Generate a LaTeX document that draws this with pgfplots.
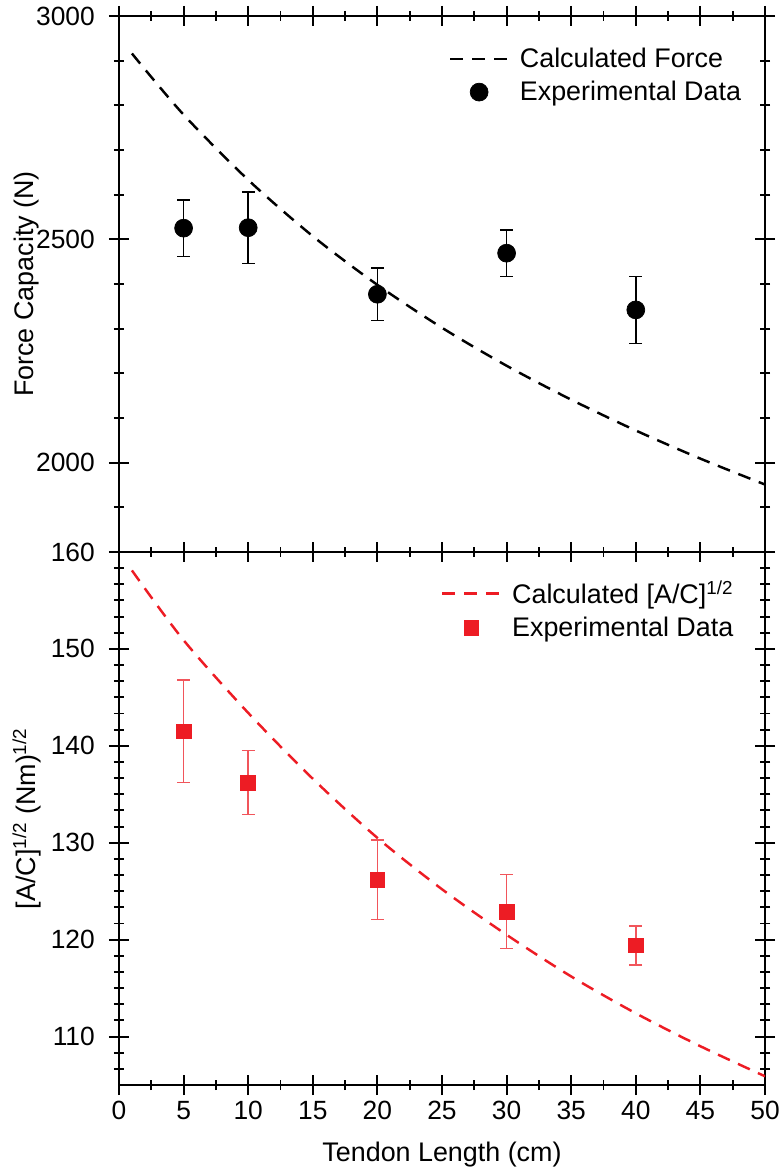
\documentclass[border=0pt]{standalone}
\usepackage{pgfplots}
\pgfplotsset{compat=1.18}
\usepackage{fontspec}
\setmainfont{Liberation Sans}
\definecolor{cred}{RGB}{237,28,36}

\begin{document}
\begin{tikzpicture}
\pgfplotsset{panel/.style={
    scale only axis, width=12.92cm,
    xmin=0, xmax=50,
    xtick={0,5,...,50}, minor x tick num=1,
    tick align=center, major tick length=0.4cm, minor tick length=0.2cm,
    axis line style={line width=1.1pt},
    every tick/.style={black, line width=1.1pt},
    tick label style={font=\fontsize{15}{17}\selectfont},
    yticklabel style={xshift=-0.16cm},
    label style={font=\fontsize{15.3}{18}\selectfont},
    /pgf/number format/assume math mode=true,
    /pgf/number format/1000 sep={},
    ylabel style={at={(axis description cs:-0.143,0.5)}, anchor=center},
    legend style={draw=none, fill=none, anchor=north west,
        font=\fontsize{15.3}{18}\selectfont, cells={anchor=west}, row sep=2.2pt},
    legend image code/.code={\draw[mark repeat=2,mark phase=2,##1]
        plot coordinates {(0cm,0cm) (0.58cm,0cm) (1.16cm,0cm)};
        \path (1.3cm,0cm);},
}}

% top panel: force capacity
\begin{axis}[panel,
    at={(0,10.66cm)}, anchor=south west, height=10.72cm,
    ymin=1800, ymax=3000,
    ytick={2000,2500,3000},
    minor ytick={1800,1900,...,3000},
    xticklabels={},
    ylabel={Force Capacity (N)},
    legend style={at={(0.502,0.954)}},
    ]
    \addplot[black, line width=1.4pt, dash pattern=on 7.4pt off 5.1pt, smooth]
        coordinates {
        (1,2916) (5,2779) (10,2633) (15,2507) (20,2398) (25,2302)
        (30,2217) (35,2141) (40,2072) (45,2009) (50,1951)
        };
    \addlegendentry{Calculated Force}
    \addplot[black, only marks, mark=*, mark size=5.1pt,
        error bars/.cd, y dir=both, y explicit,
        error bar style={line width=0.8pt},
        error mark options={rotate=90, mark size=3.6pt, line width=0.8pt}]
        coordinates {
        (5,2525)  +- (0,63)
        (10,2526) +- (0,80)
        (20,2377) +- (0,59)
        (30,2469) +- (0,52)
        (40,2342) +- (0,75)
        };
    \addlegendentry{Experimental Data}
\end{axis}

% bottom panel: [A/C]^(1/2)
\begin{axis}[panel,
    at={(0,0)}, anchor=south west, height=10.66cm,
    ymin=105, ymax=160,
    ytick={110,120,...,160},
    minor ytick={106.667,108.333,111.667,113.333,115,116.667,118.333,
        121.667,123.333,125,126.667,128.333,131.667,133.333,135,136.667,138.333,
        141.667,143.333,145,146.667,148.333,151.667,153.333,155,156.667,158.333},
    xlabel={Tendon Length (cm)},
    xlabel style={at={(axis description cs:0.5,-0.131)}, anchor=center},
    ylabel={[A/C]\textsuperscript{1/2} (Nm)\textsuperscript{1/2}},
    legend style={at={(0.49,0.96)}},
    ]
    \addplot[cred, line width=1.4pt, dash pattern=on 7.4pt off 5.1pt, smooth]
        coordinates {
        (1,158.1) (5,150.9) (10,143.4) (15,136.6) (20,130.5) (25,125.2)
        (30,120.5) (35,116.2) (40,112.4) (45,109.0) (50,105.9)
        };
    \addlegendentry{Calculated [A/C]\textsuperscript{1/2}}
    \addplot[cred, only marks, mark=square*, mark size=4.2pt,
        error bars/.cd, y dir=both, y explicit,
        error bar style={line width=0.8pt, cred!75},
        error mark options={rotate=90, mark size=3.6pt, line width=0.8pt, cred!75}]
        coordinates {
        (5,141.5)  +- (0,5.3)
        (10,136.2) +- (0,3.3)
        (20,126.2) +- (0,4.1)
        (30,122.9) +- (0,3.8)
        (40,119.4) +- (0,2.0)
        };
    \addlegendentry{Experimental Data}
\end{axis}

\pgfresetboundingbox
\useasboundingbox (-2.38cm,-1.72cm) rectangle (13.2cm,21.7cm);
\end{tikzpicture}
\end{document}
